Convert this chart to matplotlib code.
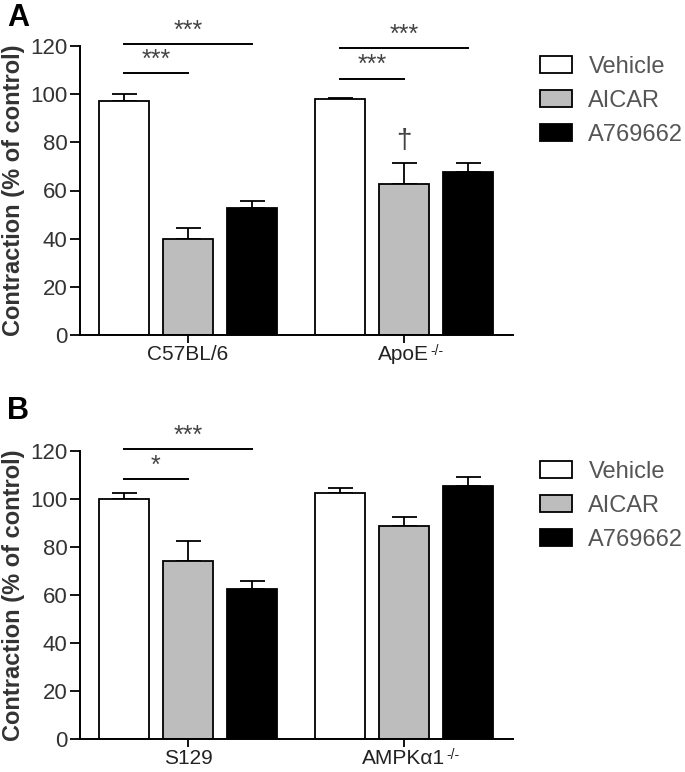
import matplotlib
matplotlib.use("Agg")
import matplotlib.pyplot as plt
from matplotlib.patches import Patch
import numpy as np

plt.rcParams['font.family'] = ['Liberation Sans', 'DejaVu Sans']

treatments = ["Vehicle", "AICAR", "A769662"]
colors = ["#ffffff", "#bdbdbd", "#000000"]

groups_A = ["C57BL/6", "ApoE"]
sups_A = ["", "-/-"]
means_A = {"Vehicle": [97.0, 97.8], "AICAR": [40.0, 62.7], "A769662": [52.6, 67.7]}
sem_A = {"Vehicle": [3.0, 0.6], "AICAR": [4.3, 8.6], "A769662": [3.2, 3.7]}

groups_B = ["S129", "AMPK\u03b11"]
sups_B = ["", "-/-"]
means_B = {"Vehicle": [100.0, 102.4], "AICAR": [74.3, 88.9], "A769662": [62.4, 105.4]}
sem_B = {"Vehicle": [2.5, 2.0], "AICAR": [8.3, 3.5], "A769662": [3.3, 3.9]}

# significance brackets: (group index, from treatment, to treatment, y, label)
sig_A = [(0, 0, 1, 108.7, "***"), (0, 0, 2, 121.0, "***"),
         (1, 0, 1, 106.5, "***"), (1, 0, 2, 119.0, "***")]
sig_B = [(0, 0, 1, 108.3, "*"), (0, 0, 2, 120.8, "***")]
dagger_A = [(1, 1, 75.0, "\u2020")]

yticks = [0, 20, 40, 60, 80, 100, 120]

fig = plt.figure(figsize=(6.85, 7.72), dpi=100)
W, H = 685, 772

group_centers = np.array([0.0, 3.375])
offsets = np.array([-1.0, 0.0, 1.0])
width = 50 / 64

def make_panel(rect, groups, means, sems, sigs, daggers, letter, letter_y, legend_top):
    ax = fig.add_axes(rect)
    for i, t in enumerate(treatments):
        x = group_centers + offsets[i]
        ax.bar(x, means[t], width=width, color=colors[i], edgecolor="black",
               linewidth=1.3, zorder=2)
        ax.errorbar(x, means[t], yerr=[np.zeros(len(x)), sems[t]], fmt="none",
                    ecolor="black", elinewidth=1.3, capsize=9, capthick=1.3, zorder=1)
    for g, a, b, y, lab in sigs:
        x0 = group_centers[g] + offsets[a]
        x1 = group_centers[g] + offsets[b]
        ax.plot([x0, x1], [y, y], color="black", lw=1.4, clip_on=False)
        ax.text((x0 + x1) / 2, y + 0.5, lab, ha="center", va="bottom",
                fontsize=18, color="#444444", clip_on=False)
    for g, a, y, lab in daggers:
        ax.text(group_centers[g] + offsets[a], y, lab, ha="center", va="bottom",
                fontsize=20, color="#444444")
    ax.set_xlim(-1.6875, 5.08)
    ax.set_ylim(0, 120)
    ax.set_yticks(yticks)
    ax.set_xticks(group_centers)
    ax.set_xticklabels(groups, fontsize=15, color="#222222")
    ax.tick_params(axis="y", labelsize=16, labelcolor="#333333", length=7,
                   width=1.3, direction="out", pad=2)
    ax.tick_params(axis="x", length=6, width=1.3, direction="out", pad=1)
    for s in ["top", "right"]:
        ax.spines[s].set_visible(False)
    for s in ["left", "bottom"]:
        ax.spines[s].set_linewidth(1.4)
    ax.set_ylabel("Contraction (% of control)", fontsize=17, fontweight="bold",
                  color="#333333", labelpad=4)
    fig.text(7 / W, 1 - letter_y / H, letter, fontsize=22, fontweight="bold",
             ha="left", va="top")
    handles = [Patch(facecolor=c, edgecolor="black", linewidth=1.3) for c in colors]
    fig.legend(handles, treatments, loc="upper left",
               bbox_to_anchor=(540 / W, 1 - legend_top / H),
               bbox_transform=fig.transFigure, frameon=False, fontsize=17,
               handlelength=1.35, handleheight=0.7, handletextpad=0.7,
               labelspacing=0.5, borderpad=0, borderaxespad=0,
               labelcolor="#555555")
    return ax

def add_sups(ax, sups):
    fig.canvas.draw()
    r = fig.canvas.get_renderer()
    for lbl, s in zip(ax.get_xticklabels(), sups):
        if not s:
            continue
        bb = lbl.get_window_extent(r)
        fig.text((bb.x1 + 1) / W, (bb.y1 + 1) / H, s, fontsize=10,
                 color="#222222", ha="left", va="top")

axA = make_panel([80 / W, (H - 335) / H, 433 / W, 289 / H], groups_A, means_A, sem_A,
                 sig_A, dagger_A, "A", 3, 56)
axB = make_panel([80 / W, (H - 739.3) / H, 433 / W, 288.3 / H], groups_B, means_B, sem_B,
                 sig_B, [], "B", 396, 461)
add_sups(axA, sups_A)
add_sups(axB, sups_B)

fig.savefig("out.png", dpi=100)
